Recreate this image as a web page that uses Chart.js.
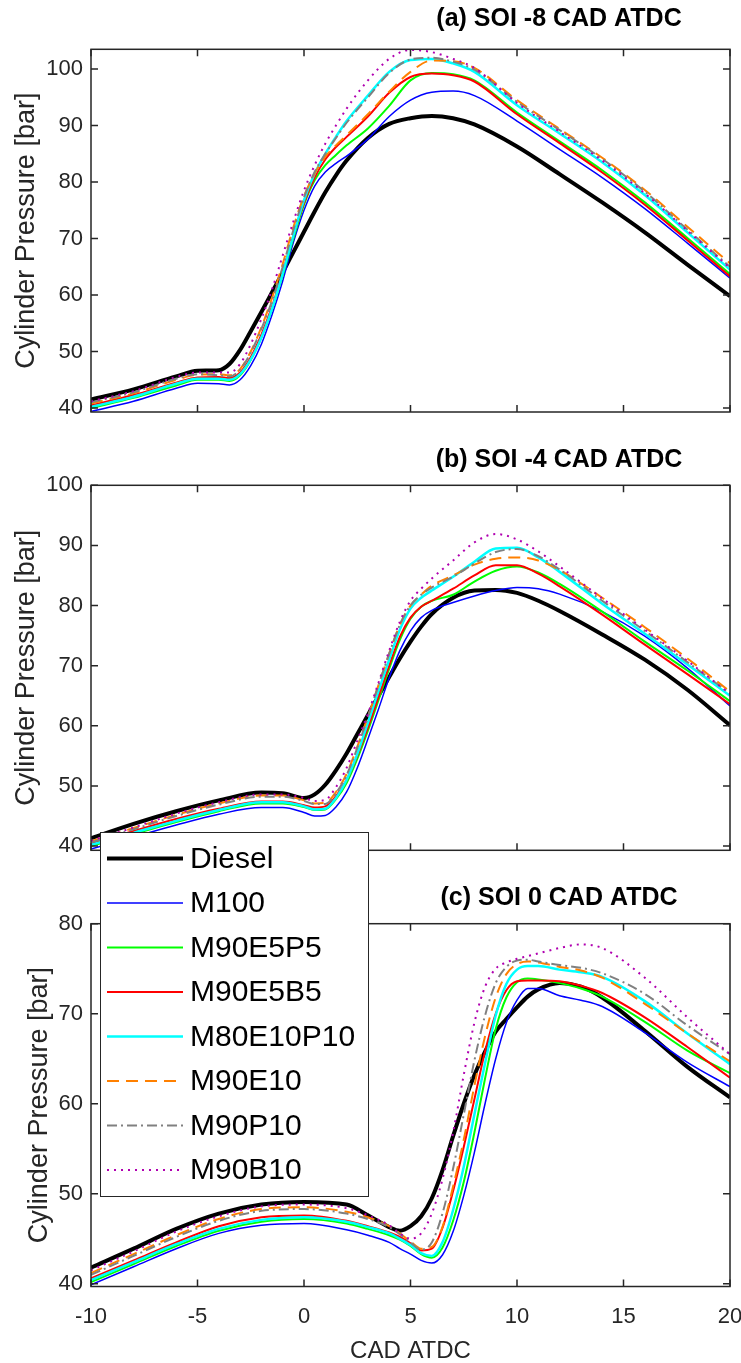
<!DOCTYPE html>
<html lang="en">
  <head>
    <meta charset="UTF-8" />
    <title>Cylinder Pressure vs CAD ATDC</title>
    <script src="https://cdn.jsdelivr.net/npm/chart.js@4"></script>
    <style>
      html, body { margin: 0; padding: 0; background: #fff; overflow: hidden; }
      body { width: 741px; height: 1363px; position: relative; }
      canvas { position: absolute; left: 0; }
    </style>
  </head>
  <body>
    <canvas id="panelA" width="741" height="440" style="top:0px"></canvas>
    <canvas id="panelB" width="741" height="420" style="top:440px"></canvas>
    <canvas id="panelC" width="741" height="543" style="top:820px"></canvas>
    <script>
      const fuels = ["Diesel", "M100", "M90E5P5", "M90E5B5", "M80E10P10", "M90E10", "M90P10", "M90B10"];
      const xTicks = [-10, -5, 0, 5, 10, 15, 20];
      const yTicksA = [40, 50, 60, 70, 80, 90, 100];
      const yTicksB = [40, 50, 60, 70, 80, 90, 100];
      const yTicksC = [40, 50, 60, 70, 80];

      // (a) SOI -8
      const cadA = [-10, -8, -6, -5, -4, -3.5, -3, -2.5, -2, -1.5, -1, -0.5, 0, 0.5, 1, 1.5, 2, 3, 4, 5, 6, 7, 8, 10, 12, 14, 16, 18, 20];
      const dieselA = [41.5, 43.3, 45.6, 46.6, 46.7, 47.8, 50.3, 53.6, 57.0, 60.5, 64.0, 67.6, 71.2, 74.8, 78.2, 81.2, 83.8, 87.8, 90.3, 91.3, 91.7, 91.3, 90.2, 86.3, 81.4, 76.4, 71.1, 65.4, 59.8];
      const m100A = [39.4, 41.2, 43.5, 44.4, 44.3, 44.1, 45.0, 47.5, 51.3, 56.5, 62.5, 69.3, 75.0, 79.3, 81.8, 83.3, 84.6, 87.6, 91.6, 94.5, 95.9, 96.1, 95.3, 90.8, 85.8, 80.8, 75.3, 69.2, 63.0];
      const m90e5p5A = [40.0, 41.8, 44.0, 45.0, 45.0, 44.8, 45.8, 48.5, 52.5, 57.5, 63.5, 70.0, 76.0, 80.3, 83.0, 84.8, 86.5, 89.5, 93.5, 98.0, 99.3, 99.1, 98.0, 92.3, 87.2, 82.1, 76.4, 70.1, 63.7];
      const m90e5b5A = [40.5, 42.3, 44.5, 45.4, 45.5, 45.3, 46.3, 49.0, 53.0, 58.0, 64.0, 70.5, 76.3, 80.8, 84.0, 86.2, 88.0, 91.6, 95.8, 98.6, 99.2, 98.9, 97.8, 92.0, 86.9, 81.7, 76.0, 69.7, 63.3];
      const m80e10p10A = [40.2, 42.0, 44.3, 45.2, 45.2, 45.0, 46.0, 48.6, 52.5, 57.6, 63.8, 70.5, 76.8, 81.5, 85.0, 88.0, 90.8, 95.3, 99.5, 101.6, 101.8, 101.0, 99.5, 93.6, 88.6, 83.5, 77.7, 71.1, 64.5];
      const m90e10A = [40.8, 42.6, 45.0, 45.9, 46.0, 45.8, 46.9, 50.0, 54.3, 59.5, 65.5, 72.0, 77.5, 81.5, 84.5, 86.5, 88.3, 92.0, 96.0, 99.5, 101.5, 101.4, 100.2, 94.5, 89.4, 84.3, 78.6, 72.1, 65.6];
      const m90p10A = [41.0, 42.8, 45.2, 46.0, 45.8, 45.6, 46.8, 49.8, 54.0, 59.0, 65.0, 71.5, 77.3, 81.8, 85.0, 87.8, 90.5, 95.0, 99.3, 101.7, 102.0, 101.3, 99.9, 94.2, 89.2, 84.1, 78.3, 71.6, 65.0];
      const m90b10A = [41.2, 43.0, 45.5, 46.3, 46.3, 46.3, 47.8, 51.3, 55.8, 61.0, 67.0, 73.0, 78.5, 83.0, 86.8, 90.0, 93.0, 98.0, 101.8, 103.4, 103.0, 101.8, 100.2, 94.0, 88.9, 83.8, 78.0, 71.4, 64.8];

      // (b) SOI -4
      const cadB = [-10, -8, -6, -4, -2, -1, 0, 0.5, 1, 1.5, 2, 2.5, 3, 3.5, 4, 4.5, 5, 5.5, 6, 7, 8, 9, 10, 11, 12, 14, 16, 18, 20];
      const dieselB = [41.3, 43.7, 45.8, 47.6, 48.9, 48.8, 48.0, 48.6, 50.2, 52.6, 55.4, 58.6, 61.8, 65.0, 68.1, 71.2, 74.0, 76.5, 78.6, 81.3, 82.5, 82.6, 82.1, 80.8, 79.1, 75.2, 71.0, 66.0, 60.1];
      const m100B = [39.5, 41.5, 43.5, 45.3, 46.4, 46.4, 45.6, 45.0, 45.1, 46.5, 49.0, 53.0, 57.8, 62.8, 68.0, 72.5, 75.8, 78.0, 79.2, 80.5, 81.6, 82.5, 83.0, 82.8, 81.9, 79.0, 74.9, 69.6, 63.3];
      const m90e5p5B = [40.0, 42.0, 44.0, 45.8, 47.1, 47.1, 46.5, 46.0, 46.1, 47.8, 50.5, 54.5, 59.2, 64.3, 69.5, 74.3, 77.8, 79.8, 80.8, 81.8, 84.0, 85.8, 86.5, 85.5, 83.6, 79.0, 74.0, 69.2, 64.1];
      const m90e5b5B = [40.4, 42.5, 44.5, 46.2, 47.4, 47.4, 46.8, 46.4, 46.6, 48.3, 51.0, 55.0, 59.7, 64.8, 70.0, 74.8, 78.0, 79.8, 80.8, 82.8, 85.0, 86.7, 86.7, 85.3, 83.2, 78.5, 73.5, 68.6, 63.6];
      const m80e10p10B = [40.2, 42.2, 44.2, 46.0, 47.3, 47.3, 46.6, 46.1, 46.2, 48.0, 51.0, 55.3, 60.5, 65.8, 71.0, 76.0, 79.5, 81.3, 82.5, 84.8, 87.3, 89.5, 89.6, 88.0, 85.6, 80.3, 75.3, 70.2, 65.0];
      const m90e10B = [40.8, 43.0, 45.2, 47.1, 48.4, 48.4, 47.6, 47.1, 47.2, 49.0, 52.0, 56.5, 61.5, 66.8, 72.0, 76.8, 80.0, 81.8, 83.3, 85.0, 86.8, 87.8, 88.0, 87.5, 85.9, 81.3, 76.4, 71.2, 65.7];
      const m90p10B = [40.6, 42.8, 45.0, 46.9, 48.2, 48.2, 47.5, 47.0, 47.0, 48.8, 51.8, 56.3, 61.5, 66.8, 72.0, 76.8, 80.0, 81.8, 83.0, 84.8, 87.0, 88.9, 89.4, 88.2, 86.0, 80.8, 75.8, 70.6, 65.4];
      const m90b10B = [40.9, 43.1, 45.4, 47.3, 48.6, 48.6, 48.0, 47.5, 47.7, 49.8, 53.0, 57.5, 62.0, 67.2, 72.5, 77.3, 80.8, 82.8, 84.5, 87.5, 90.5, 91.9, 91.0, 89.0, 86.5, 81.2, 76.0, 70.8, 65.3];

      // (c) SOI 0
      const cadC = [-10, -8, -6, -4, -2, 0, 2, 3, 4, 4.5, 5, 5.5, 6, 6.5, 7, 7.5, 8, 8.5, 9, 9.5, 10, 10.5, 11, 12, 13, 14, 16, 18, 20];
      const dieselC = [41.8, 43.9, 46.1, 47.8, 48.8, 49.1, 48.8, 47.6, 46.3, 45.9, 46.4, 47.5, 49.5, 52.6, 56.4, 60.0, 63.2, 65.8, 68.0, 69.4, 70.7, 71.9, 72.7, 73.4, 73.0, 71.8, 68.1, 64.1, 60.7];
      const m100C = [39.9, 41.9, 43.9, 45.6, 46.5, 46.7, 46.0, 45.4, 44.6, 43.9, 43.3, 42.6, 42.3, 43.2, 45.8, 49.8, 54.6, 60.0, 65.0, 69.0, 71.5, 72.8, 72.8, 72.0, 71.5, 70.8, 67.9, 64.6, 61.9];
      const m90e5p5C = [40.2, 42.2, 44.2, 45.9, 46.9, 47.2, 46.7, 46.1, 45.4, 44.9, 44.2, 43.3, 42.9, 44.0, 47.0, 51.3, 56.8, 62.8, 68.3, 71.8, 73.5, 73.9, 73.8, 73.4, 72.8, 71.9, 69.1, 65.9, 63.4];
      const m90e5b5C = [40.6, 42.6, 44.6, 46.4, 47.4, 47.6, 47.0, 46.4, 45.7, 45.2, 44.5, 43.7, 43.9, 46.2, 50.3, 55.2, 60.5, 65.8, 70.0, 72.6, 73.6, 73.7, 73.7, 73.6, 73.1, 72.3, 69.6, 66.3, 62.9];
      const m80e10p10C = [40.4, 42.4, 44.4, 46.1, 47.1, 47.4, 46.9, 46.3, 45.6, 45.0, 44.3, 43.4, 43.1, 44.6, 48.2, 53.0, 58.8, 64.5, 69.8, 73.3, 74.9, 75.3, 75.3, 74.9, 74.6, 74.1, 71.4, 67.8, 64.4];
      const m90e10C = [41.2, 43.3, 45.4, 47.2, 48.3, 48.5, 48.0, 47.4, 46.4, 45.6, 44.7, 43.9, 44.1, 46.3, 50.8, 56.0, 62.0, 67.5, 71.8, 74.4, 75.5, 75.8, 75.7, 75.2, 74.8, 74.0, 71.1, 67.8, 64.7];
      const m90p10C = [41.0, 43.1, 45.2, 47.0, 48.1, 48.3, 47.8, 47.2, 46.3, 45.5, 44.6, 43.8, 44.6, 47.8, 52.8, 58.8, 64.8, 69.8, 73.4, 75.2, 75.9, 76.0, 75.8, 75.4, 75.1, 74.5, 72.2, 68.7, 65.5];
      const m90b10C = [41.5, 43.6, 45.8, 47.5, 48.6, 48.8, 48.4, 47.6, 46.5, 45.6, 45.0, 45.6, 47.8, 51.6, 56.8, 63.2, 69.0, 73.0, 75.0, 75.7, 76.1, 76.4, 76.7, 77.3, 77.7, 77.3, 74.0, 69.6, 65.5];

      // line styles, same order as fuels
      const lineColors = ["#000000", "#0000ff", "#00ff00", "#ff0000", "#00ffff", "#ff8000", "#808080", "#b000b0"];
      const lineWidths = [4, 1.5, 2, 2, 2.5, 2, 2, 2];
      const lineDashes = [[], [], [], [], [], [12, 7], [10, 4, 2, 4], [2, 5]];

      const FONT = '"Liberation Sans", Arial, Helvetica, sans-serif';
      const AXIS = "#262626";
      Chart.defaults.font.family = FONT;

      // box round the plot with inward ticks, like the MATLAB axes
      const boxPlugin = {
        id: "axesBox",
        afterDatasetsDraw(chart, args, opts) {
          const { ctx, chartArea: a } = chart;
          const x = chart.scales.x, y = chart.scales.y;
          const len = 7;
          ctx.save();
          ctx.strokeStyle = AXIS;
          ctx.lineWidth = 1.5;
          ctx.strokeRect(a.left, a.top, a.right - a.left, a.bottom - a.top);
          ctx.beginPath();
          opts.xt.forEach((v) => {
            const px = x.getPixelForValue(v);
            ctx.moveTo(px, a.bottom); ctx.lineTo(px, a.bottom - len);
            ctx.moveTo(px, a.top); ctx.lineTo(px, a.top + len);
          });
          opts.yt.forEach((v) => {
            const py = y.getPixelForValue(v);
            ctx.moveTo(a.left, py); ctx.lineTo(a.left + len, py);
            ctx.moveTo(a.right, py); ctx.lineTo(a.right - len, py);
          });
          ctx.stroke();
          ctx.restore();
        },
      };

      const titlePlugin = {
        id: "panelTitle",
        afterDraw(chart, args, opts) {
          const ctx = chart.ctx;
          ctx.save();
          ctx.font = "bold 25px " + FONT;
          ctx.fillStyle = "#000";
          ctx.textAlign = "center";
          ctx.textBaseline = "middle";
          ctx.fillText(opts.text, opts.x, opts.y);
          ctx.restore();
        },
      };

      const legendPlugin = {
        id: "boxLegend",
        afterDraw(chart, args, o) {
          if (!o.show) return;
          const ctx = chart.ctx;
          ctx.save();
          ctx.fillStyle = "#fff";
          ctx.fillRect(o.left, o.top, o.width, o.height);
          ctx.strokeStyle = AXIS;
          ctx.lineWidth = 1;
          ctx.strokeRect(o.left + 0.5, o.top + 0.5, o.width, o.height);
          ctx.font = "30px " + FONT;
          ctx.textBaseline = "middle";
          ctx.textAlign = "left";
          chart.data.datasets.forEach((ds, i) => {
            const yy = o.top + o.first + i * o.step;
            ctx.beginPath();
            ctx.strokeStyle = ds.borderColor;
            ctx.lineWidth = ds.borderWidth;
            ctx.setLineDash(ds.borderDash);
            ctx.moveTo(o.x0, yy);
            ctx.lineTo(o.x1, yy);
            ctx.stroke();
            ctx.setLineDash([]);
            ctx.fillStyle = "#000";
            ctx.fillText(ds.label, o.tx, yy + 1);
          });
          ctx.restore();
        },
      };

      function makePanel(id, cad, series, yMin, yMax, yTicks, cfg) {
        const datasets = series.map((vals, i) => ({
          label: fuels[i],
          data: cad.map((c, j) => ({ x: c, y: vals[j] })),
          borderColor: lineColors[i],
          borderWidth: lineWidths[i],
          borderDash: lineDashes[i],
          pointRadius: 0,
          cubicInterpolationMode: "monotone",
          fill: false,
          order: series.length - i,
        }));

        const xScale = {
          type: "linear",
          min: -10,
          max: 20,
          display: cfg.showX,
          afterBuildTicks: (s) => { s.ticks = xTicks.map((v) => ({ value: v })); },
          afterFit: (s) => { s.height = cfg.xHeight || 0; s.paddingLeft = 0; s.paddingRight = 0; },
          grid: { display: false, drawTicks: false },
          border: { display: false },
          ticks: { color: AXIS, font: { size: 22 }, padding: 17, maxRotation: 0, autoSkip: false },
          title: {
            display: true,
            text: "CAD ATDC",
            color: AXIS,
            font: { size: 24, lineHeight: 1 },
            padding: { top: 0, bottom: 0 },
          },
        };

        new Chart(document.getElementById(id), {
          type: "line",
          data: { datasets },
          options: {
            responsive: false,
            animation: false,
            devicePixelRatio: 1,
            layout: { padding: cfg.pad },
            scales: {
              x: xScale,
              y: {
                min: yMin,
                max: yMax,
                afterBuildTicks: (s) => { s.ticks = yTicks.map((v) => ({ value: v })); },
                afterFit: (s) => { s.width = 91; s.paddingTop = 0; s.paddingBottom = 0; },
                grid: { display: false, drawTicks: false },
                border: { display: false },
                ticks: { color: AXIS, font: { size: 22 }, padding: 8 },
                title: {
                  display: true,
                  text: "Cylinder Pressure [bar]",
                  color: AXIS,
                  font: { size: 27 },
                  padding: { top: cfg.yTitlePad, bottom: 0 },
                },
              },
            },
            plugins: {
              legend: { display: false },
              tooltip: { enabled: false },
              axesBox: { xt: xTicks, yt: yTicks },
              panelTitle: cfg.title,
              boxLegend: cfg.legend || { show: false },
            },
          },
          plugins: [boxPlugin, titlePlugin, legendPlugin],
        });
      }

      makePanel("panelA", cadA,
        [dieselA, m100A, m90e5p5A, m90e5b5A, m80e10p10A, m90e10A, m90p10A, m90b10A],
        39.3, 103.5, yTicksA, {
          showX: false,
          pad: { left: 0, right: 11, top: 49.3, bottom: 28 },
          yTitlePad: 10,
          title: { text: "(a) SOI -8 CAD ATDC", x: 559, y: 19 },
        });

      makePanel("panelB", cadB,
        [dieselB, m100B, m90e5p5B, m90e5b5B, m80e10p10B, m90e10B, m90p10B, m90b10B],
        39.3, 100, yTicksB, {
          showX: false,
          pad: { left: 0, right: 11, top: 45.3, bottom: 9.7 },
          yTitlePad: 10,
          title: { text: "(b) SOI -4 CAD ATDC", x: 559, y: 20 },
        });

      makePanel("panelC", cadC,
        [dieselC, m100C, m90e5p5C, m90e5b5C, m80e10p10C, m90e10C, m90p10C, m90b10C],
        39.7, 80, yTicksC, {
          showX: true,
          xHeight: 76.5,
          pad: { left: 0, right: 11, top: 103.7, bottom: 0 },
          yTitlePad: 23,
          title: { text: "(c) SOI 0 CAD ATDC", x: 559, y: 78 },
          legend: { show: true, left: 100, top: 12, width: 268, height: 364, first: 26.5, step: 44.5, x0: 107, x1: 183, tx: 190 },
        });
    </script>
  </body>
</html>
